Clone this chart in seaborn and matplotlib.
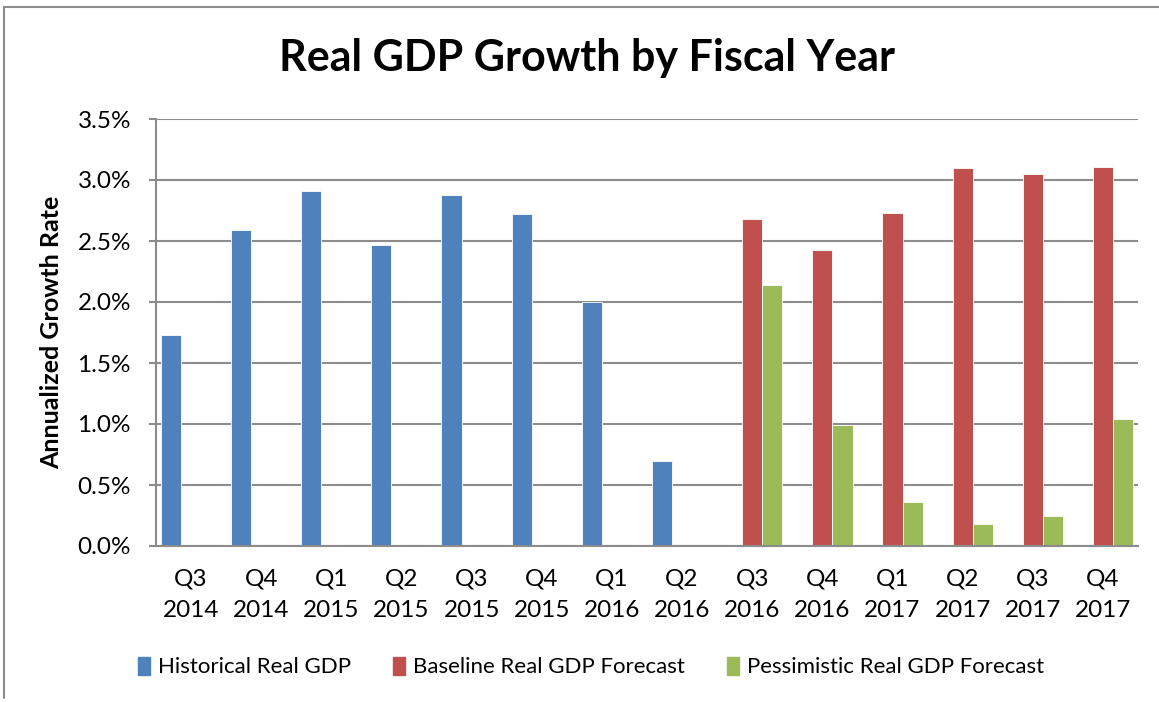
import numpy as np
import pandas as pd
import matplotlib
matplotlib.use("Agg")
import matplotlib.pyplot as plt
import seaborn as sns
from matplotlib.patches import Rectangle
from matplotlib.lines import Line2D
from matplotlib.ticker import FuncFormatter

categories = ["Q3\n2014", "Q4\n2014", "Q1\n2015", "Q2\n2015", "Q3\n2015", "Q4\n2015",
              "Q1\n2016", "Q2\n2016", "Q3\n2016", "Q4\n2016", "Q1\n2017", "Q2\n2017",
              "Q3\n2017", "Q4\n2017"]
series_names = ["Historical Real GDP", "Baseline Real GDP Forecast", "Pessimistic Real GDP Forecast"]
historical = [1.73, 2.59, 2.91, 2.47, 2.88, 2.72, 2.00, 0.70, None, None, None, None, None, None]
baseline = [None, None, None, None, None, None, None, None, 2.68, 2.43, 2.73, 3.10, 3.05, 3.11]
pessimistic = [None, None, None, None, None, None, None, None, 2.14, 0.99, 0.36, 0.18, 0.25, 1.04]
yticks = [0.0, 0.5, 1.0, 1.5, 2.0, 2.5, 3.0, 3.5]
colors = ["#4F81BD", "#C0504D", "#9BBB59"]

rows = []
for name, vals in zip(series_names, [historical, baseline, pessimistic]):
    for c, v in zip(categories, vals):
        if v is not None:
            rows.append({"cat": c, "series": name, "value": v})
df = pd.DataFrame(rows)

sns.set_style("white")
plt.rcParams["font.family"] = ["Lato", "DejaVu Sans"]
plt.rcParams["text.color"] = "black"
plt.rcParams["axes.labelcolor"] = "black"
plt.rcParams["xtick.color"] = "black"
plt.rcParams["ytick.color"] = "black"

fig = plt.figure(figsize=(11.59, 7.02), dpi=100)
W, H = 1159, 702
ax = fig.add_axes([156 / W, 1 - 546 / H, (1138 - 156) / W, (546 - 119) / H])

sns.barplot(data=df, x="cat", y="value", hue="series", order=categories,
            hue_order=series_names, palette=colors, width=0.86, dodge=True,
            saturation=1, edgecolor="white", linewidth=0.6, ax=ax, legend=True)

ax.set_ylim(0, 3.5)
ax.set_xlim(-0.5, len(categories) - 0.5)
ax.set_yticks(yticks)
ax.yaxis.set_major_formatter(FuncFormatter(lambda v, p: f"{v:.1f}%"))
ax.grid(axis="y", color="#8C8C8C", linewidth=1.5)
ax.set_axisbelow(True)
for s in ["top", "right"]:
    ax.spines[s].set_visible(False)
for s in ["left", "bottom"]:
    ax.spines[s].set_color("#8C8C8C")
    ax.spines[s].set_linewidth(1.5)
ax.tick_params(axis="y", length=5, width=1.5, color="#8C8C8C", labelcolor="black", pad=13,
               labelsize=17.5, direction="out", left=True)
ax.tick_params(axis="x", length=0, pad=16, labelsize=17.5, labelcolor="black")
for lab in ax.get_xticklabels():
    lab.set_linespacing(1.65)
ax.set_xlabel("")
ax.set_ylabel("Annualized Growth Rate", fontsize=18, fontweight="bold", labelpad=10)

ax.get_legend().remove()
handles = [Rectangle((0, 0), 1, 1, color=c) for c in colors]
fig.legend(handles, series_names, loc="center", bbox_to_anchor=(591 / W, 1 - 667 / H),
           ncol=3, frameon=False, fontsize=16, handlelength=0.55, handleheight=0.9,
           handletextpad=0.35, columnspacing=1.9)

fig.text(587 / W, 1 - 58 / H, "Real GDP Growth by Fiscal Year", ha="center", va="center",
         fontsize=31, fontweight="bold")

# outer frame (top and left edges visible)
fig.lines.append(Line2D([4 / W, 1], [1 - 7 / H, 1 - 7 / H], transform=fig.transFigure,
                        color="#8C8C8C", linewidth=1.5))
fig.lines.append(Line2D([4 / W, 4 / W], [1 - 7 / H, 1 - 698 / H], transform=fig.transFigure,
                        color="#8C8C8C", linewidth=1.5))

fig.savefig("out.png", dpi=100, facecolor="white")
